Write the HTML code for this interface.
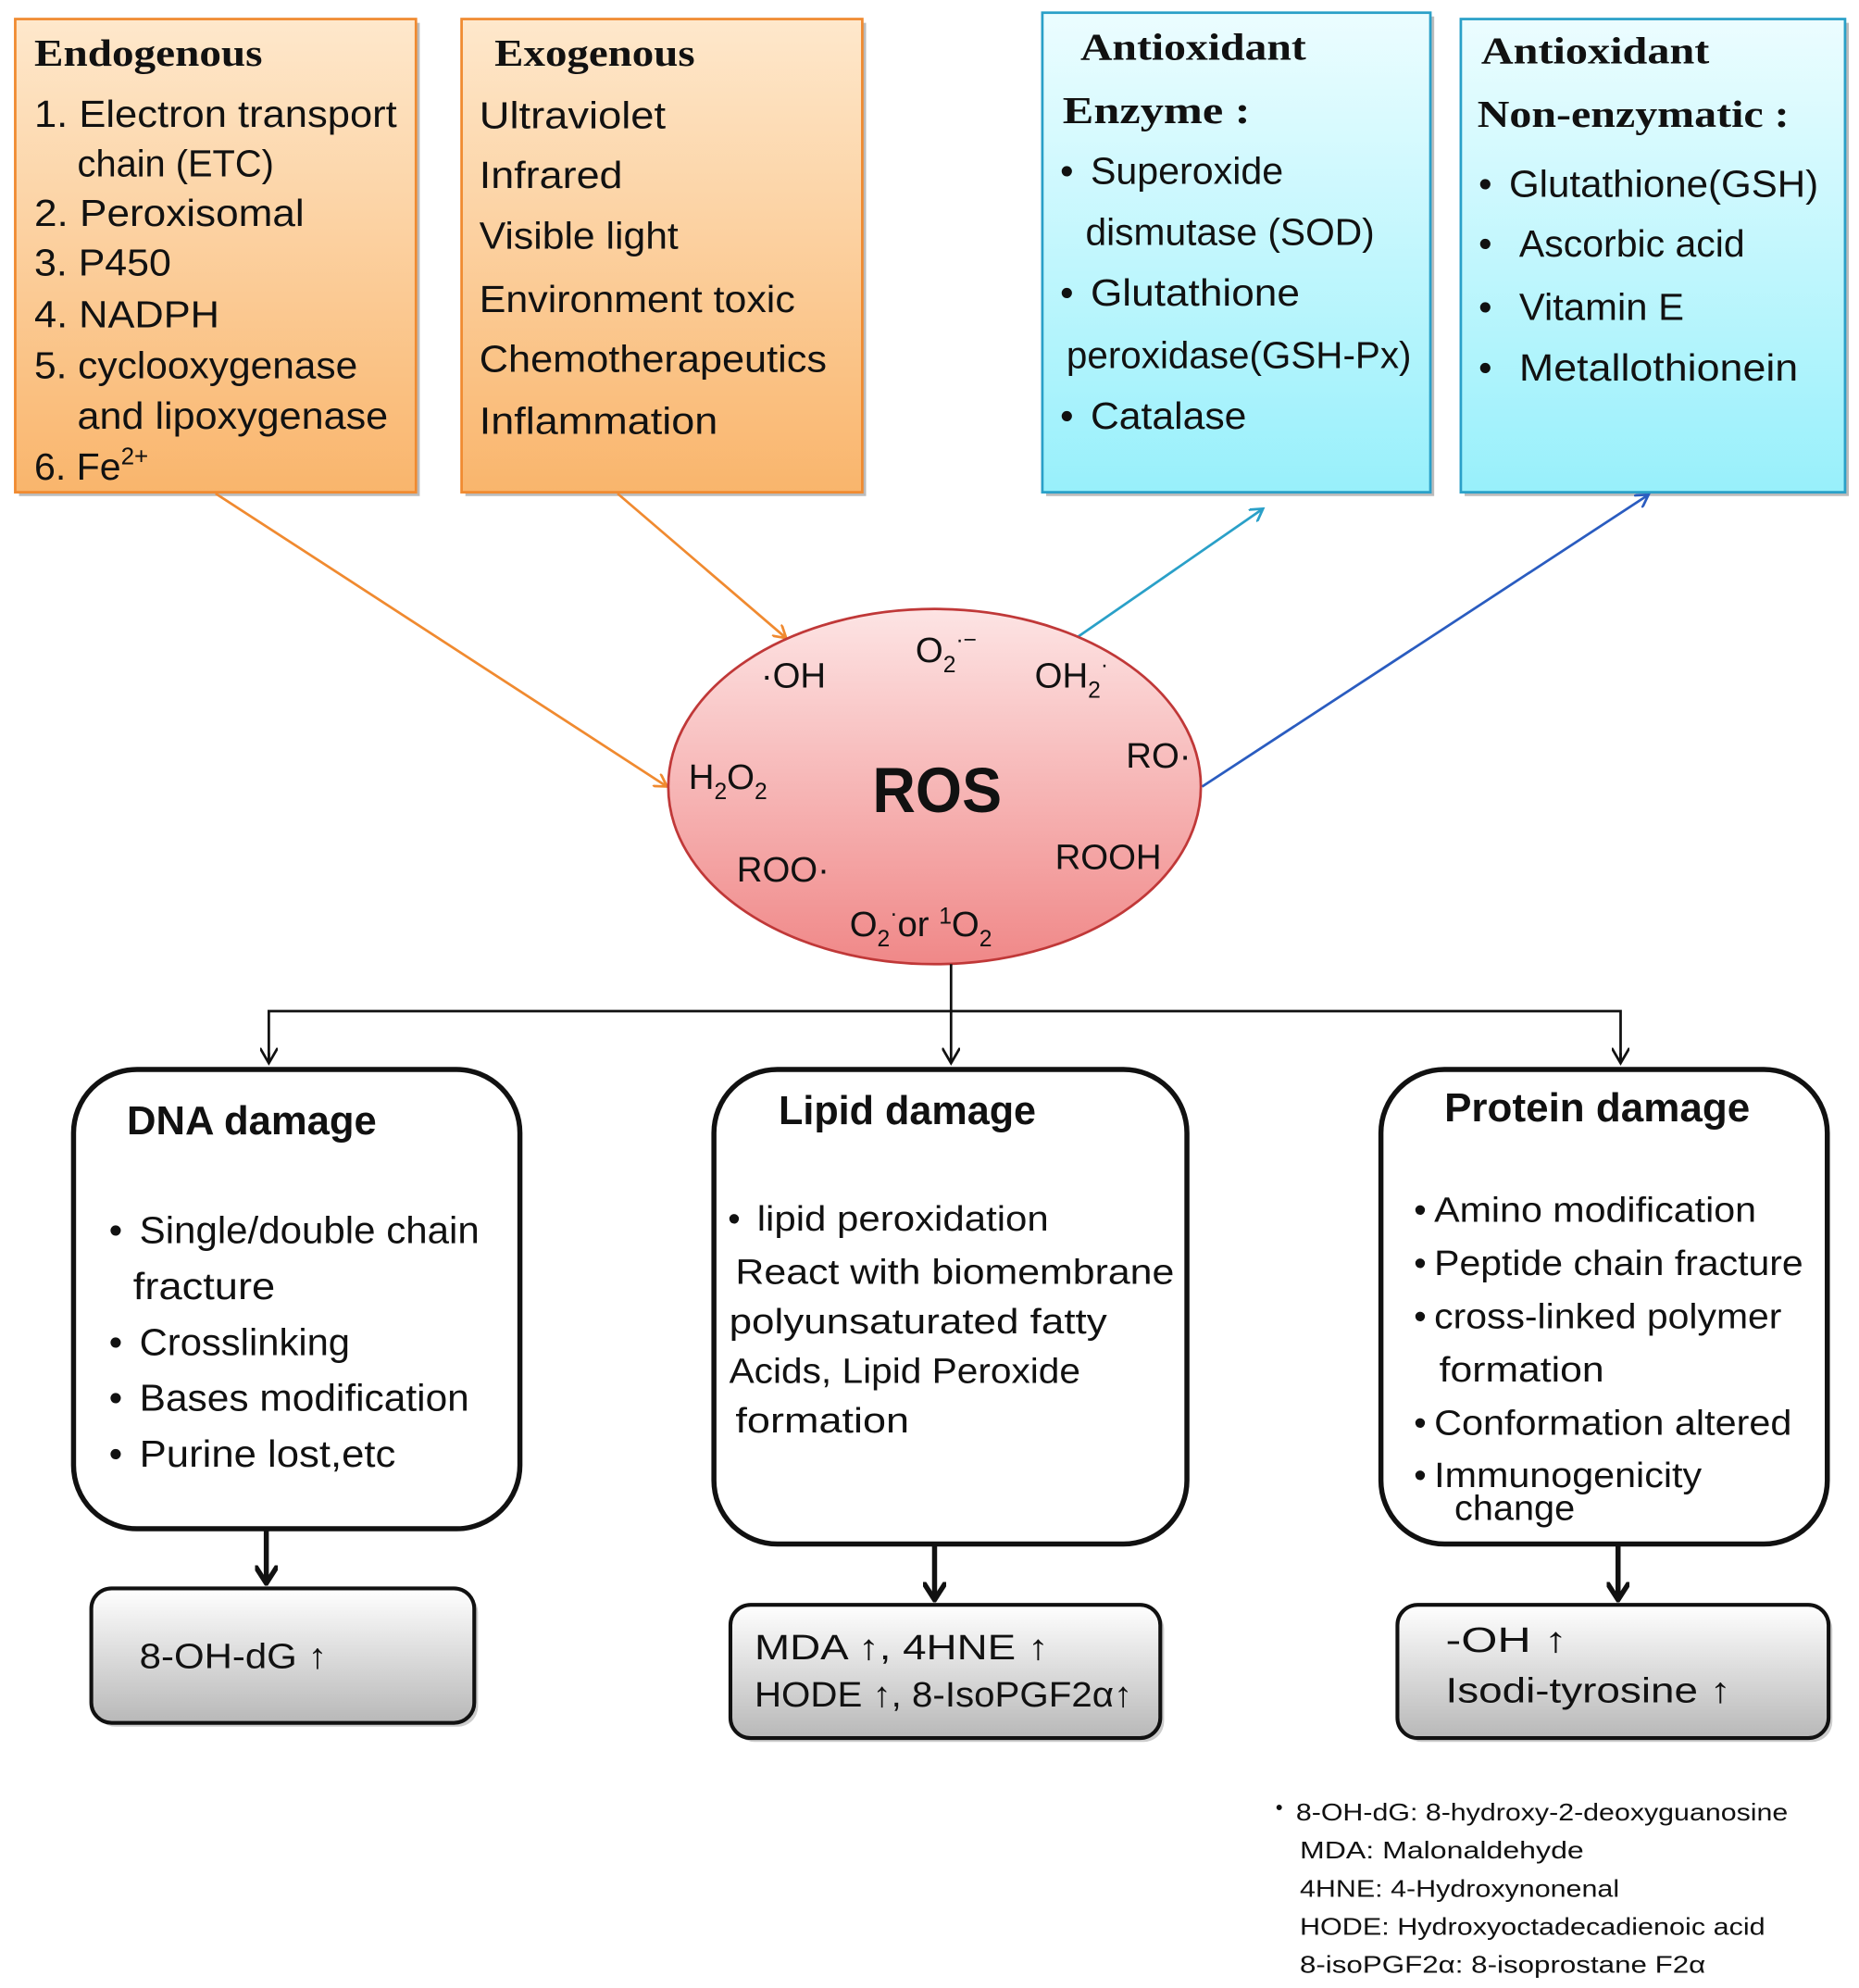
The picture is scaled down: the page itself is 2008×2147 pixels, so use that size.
<!DOCTYPE html>
<html><head><meta charset="utf-8"><style>
html,body{margin:0;padding:0;background:#fff;}
svg{display:block;}
text{font-family:"Liberation Sans Narrow","Liberation Sans",sans-serif;fill:#111;}
.t{font-family:"Liberation Serif",serif;font-weight:bold;font-size:30px;}
.b{font-weight:bold;}
</style></head><body>
<svg width="2008" height="2147" viewBox="0 0 1466 1567" preserveAspectRatio="none" xmlns="http://www.w3.org/2000/svg">
<defs>
<linearGradient id="og" x1="0" y1="0" x2="0" y2="1"><stop offset="0" stop-color="#fee8cc"/><stop offset="1" stop-color="#f9b56c"/></linearGradient>
<linearGradient id="cg" x1="0" y1="0" x2="0" y2="1"><stop offset="0" stop-color="#ecfdff"/><stop offset="1" stop-color="#98f0fb"/></linearGradient>
<linearGradient id="rg" x1="0" y1="0" x2="0" y2="1"><stop offset="0" stop-color="#fde4e4"/><stop offset="1" stop-color="#f08888"/></linearGradient>
<linearGradient id="gg" x1="0" y1="0" x2="0" y2="1"><stop offset="0" stop-color="#ffffff"/><stop offset="1" stop-color="#b8b8b8"/></linearGradient>
<marker id="ao" markerWidth="12" markerHeight="12" refX="10" refY="6" orient="auto" markerUnits="userSpaceOnUse"><path d="M0,0 L10,6 L0,12" fill="none" stroke="#f08a30" stroke-width="2"/></marker>
<marker id="ac" markerWidth="12" markerHeight="12" refX="10" refY="6" orient="auto" markerUnits="userSpaceOnUse"><path d="M0,0 L10,6 L0,12" fill="none" stroke="#2aa0c8" stroke-width="2"/></marker>
<marker id="ab" markerWidth="12" markerHeight="12" refX="10" refY="6" orient="auto" markerUnits="userSpaceOnUse"><path d="M0,0 L10,6 L0,12" fill="none" stroke="#2a5cc0" stroke-width="2"/></marker>
<marker id="ak" markerWidth="14" markerHeight="14" refX="12" refY="7" orient="auto" markerUnits="userSpaceOnUse"><path d="M0,0 L12,7 L0,14" fill="none" stroke="#111" stroke-width="2"/></marker>
<marker id="ak2" markerWidth="16" markerHeight="18" refX="14" refY="9" orient="auto" markerUnits="userSpaceOnUse"><path d="M0,0 L14,9 L0,18" fill="none" stroke="#111" stroke-width="4"/></marker>
</defs>

<!-- top boxes -->
<rect x="15" y="18" width="316" height="373" fill="#bbb"/>
<rect x="12" y="15" width="316" height="373" fill="url(#og)" stroke="#f08a30" stroke-width="2"/>
<rect x="367" y="18" width="316" height="373" fill="#bbb"/>
<rect x="364" y="15" width="316" height="373" fill="url(#og)" stroke="#f08a30" stroke-width="2"/>
<rect x="825" y="13" width="306" height="378" fill="#bbb"/>
<rect x="822" y="10" width="306" height="378" fill="url(#cg)" stroke="#2aa0c8" stroke-width="2"/>
<rect x="1155" y="18" width="303" height="373" fill="#bbb"/>
<rect x="1152" y="15" width="303" height="373" fill="url(#cg)" stroke="#2aa0c8" stroke-width="2"/>

<text class="t" x="27" y="52" textLength="180" lengthAdjust="spacingAndGlyphs">Endogenous</text>
<g font-size="30">
<text x="27" y="100" textLength="286" lengthAdjust="spacingAndGlyphs">1. Electron transport</text>
<text x="61" y="139" textLength="155" lengthAdjust="spacingAndGlyphs">chain (ETC)</text>
<text x="27" y="178" textLength="213" lengthAdjust="spacingAndGlyphs">2.  Peroxisomal</text>
<text x="27" y="217" textLength="108" lengthAdjust="spacingAndGlyphs">3. P450</text>
<text x="27" y="258" textLength="146" lengthAdjust="spacingAndGlyphs">4.  NADPH</text>
<text x="27" y="298" textLength="255" lengthAdjust="spacingAndGlyphs">5. cyclooxygenase</text>
<text x="61" y="338" textLength="245" lengthAdjust="spacingAndGlyphs">and  lipoxygenase</text>
<text x="27" y="378">6. Fe<tspan font-size="19" dy="-12">2+</tspan></text>
</g>
<text class="t" x="390" y="52" textLength="158" lengthAdjust="spacingAndGlyphs">Exogenous</text>
<g font-size="30">
<text x="378" y="101" textLength="147" lengthAdjust="spacingAndGlyphs">Ultraviolet</text>
<text x="378" y="148" textLength="113" lengthAdjust="spacingAndGlyphs">Infrared</text>
<text x="378" y="196" textLength="157" lengthAdjust="spacingAndGlyphs">Visible light</text>
<text x="378" y="246" textLength="249" lengthAdjust="spacingAndGlyphs">Environment toxic</text>
<text x="378" y="293" textLength="274" lengthAdjust="spacingAndGlyphs">Chemotherapeutics</text>
<text x="378" y="342" textLength="188" lengthAdjust="spacingAndGlyphs">Inflammation</text>
</g>
<text class="t" x="852" y="47" textLength="178" lengthAdjust="spacingAndGlyphs">Antioxidant</text>
<text class="t" x="838" y="97" textLength="148" lengthAdjust="spacingAndGlyphs">Enzyme  :</text>
<g font-size="30">
<text x="836" y="145">•</text><text x="860" y="145" textLength="152" lengthAdjust="spacingAndGlyphs">Superoxide</text>
<text x="856" y="193" textLength="228" lengthAdjust="spacingAndGlyphs">dismutase (SOD)</text>
<text x="836" y="241">•</text><text x="860" y="241" textLength="165" lengthAdjust="spacingAndGlyphs">Glutathione</text>
<text x="841" y="290" textLength="272" lengthAdjust="spacingAndGlyphs">peroxidase(GSH-Px)</text>
<text x="836" y="338">•</text><text x="860" y="338" textLength="123" lengthAdjust="spacingAndGlyphs">Catalase</text>
</g>
<text class="t" x="1168" y="50" textLength="180" lengthAdjust="spacingAndGlyphs">Antioxidant</text>
<text class="t" x="1165" y="100" textLength="246" lengthAdjust="spacingAndGlyphs">Non-enzymatic :</text>
<g font-size="30">
<text x="1166" y="155">•</text><text x="1190" y="155" textLength="244" lengthAdjust="spacingAndGlyphs">Glutathione(GSH)</text>
<text x="1166" y="202">•</text><text x="1198" y="202" textLength="178" lengthAdjust="spacingAndGlyphs">Ascorbic acid</text>
<text x="1166" y="252">•</text><text x="1198" y="252" textLength="130" lengthAdjust="spacingAndGlyphs">Vitamin E</text>
<text x="1166" y="300">•</text><text x="1198" y="300" textLength="220" lengthAdjust="spacingAndGlyphs">Metallothionein</text>
</g>

<!-- connectors top -->
<line x1="170" y1="389" x2="526" y2="620" stroke="#f08a30" stroke-width="2" marker-end="url(#ao)"/>
<line x1="487" y1="389" x2="620" y2="503" stroke="#f08a30" stroke-width="2" marker-end="url(#ao)"/>
<line x1="850" y1="502" x2="996" y2="401" stroke="#2aa0c8" stroke-width="2" marker-end="url(#ac)"/>
<line x1="948" y1="620" x2="1300" y2="390" stroke="#2a5cc0" stroke-width="2" marker-end="url(#ab)"/>

<!-- ROS -->
<ellipse cx="737" cy="620" rx="210" ry="140" fill="url(#rg)" stroke="#c03838" stroke-width="2"/>
<g font-size="28">
<text x="600" y="542">·OH</text>
<text x="722" y="522">O<tspan font-size="18" dy="8">2</tspan><tspan font-size="18" dy="-20">·−</tspan></text>
<text x="816" y="542">OH<tspan font-size="18" dy="8">2</tspan><tspan font-size="18" dy="-20">·</tspan></text>
<text x="888" y="605">RO·</text>
<text x="543" y="622">H<tspan font-size="18" dy="8">2</tspan><tspan dy="-8">O</tspan><tspan font-size="18" dy="8">2</tspan></text>
<text x="832" y="685">ROOH</text>
<text x="581" y="695">ROO·</text>
<text x="670" y="738">O<tspan font-size="18" dy="8">2</tspan><tspan font-size="18" dy="-20">·</tspan><tspan dy="12">or </tspan><tspan font-size="18" dy="-10">1</tspan><tspan dy="10">O</tspan><tspan font-size="18" dy="8">2</tspan></text>
</g>
<text x="688" y="640" font-size="50" class="b" textLength="102" lengthAdjust="spacingAndGlyphs">ROS</text>

<!-- tree connectors -->
<line x1="750" y1="760" x2="750" y2="838" stroke="#111" stroke-width="2" marker-end="url(#ak)"/>
<polyline points="212,838 212,797 1278,797 1278,838" fill="none" stroke="#111" stroke-width="2"/>
<line x1="212" y1="830" x2="212" y2="838" stroke="#111" stroke-width="2" marker-end="url(#ak)"/>
<line x1="1278" y1="830" x2="1278" y2="838" stroke="#111" stroke-width="2" marker-end="url(#ak)"/>

<!-- damage boxes -->
<rect x="58" y="843" width="352" height="362" rx="50" fill="#fff" stroke="#111" stroke-width="4"/>
<rect x="563" y="843" width="373" height="374" rx="50" fill="#fff" stroke="#111" stroke-width="4"/>
<rect x="1089" y="843" width="352" height="374" rx="50" fill="#fff" stroke="#111" stroke-width="4"/>

<text x="100" y="894" font-size="32" class="b" textLength="197" lengthAdjust="spacingAndGlyphs">DNA damage</text>
<g font-size="30">
<text x="86" y="980">•</text><text x="110" y="980" textLength="268" lengthAdjust="spacingAndGlyphs">Single/double chain</text>
<text x="105" y="1024" textLength="112" lengthAdjust="spacingAndGlyphs">fracture</text>
<text x="86" y="1068">•</text><text x="110" y="1068" textLength="166" lengthAdjust="spacingAndGlyphs">Crosslinking</text>
<text x="86" y="1112">•</text><text x="110" y="1112" textLength="260" lengthAdjust="spacingAndGlyphs">Bases modification</text>
<text x="86" y="1156">•</text><text x="110" y="1156" textLength="202" lengthAdjust="spacingAndGlyphs">Purine lost,etc</text>
</g>
<text x="614" y="886" font-size="32" class="b" textLength="203" lengthAdjust="spacingAndGlyphs">Lipid damage</text>
<g font-size="28">
<text x="574" y="970">•</text><text x="597" y="970" textLength="230" lengthAdjust="spacingAndGlyphs">lipid peroxidation</text>
<text x="580" y="1012" textLength="346" lengthAdjust="spacingAndGlyphs">React with biomembrane</text>
<text x="575" y="1051" textLength="298" lengthAdjust="spacingAndGlyphs">polyunsaturated fatty</text>
<text x="575" y="1090" textLength="277" lengthAdjust="spacingAndGlyphs">Acids, Lipid Peroxide</text>
<text x="580" y="1129" textLength="137" lengthAdjust="spacingAndGlyphs">formation</text>
</g>
<text x="1139" y="884" font-size="32" class="b" textLength="241" lengthAdjust="spacingAndGlyphs">Protein damage</text>
<g font-size="28">
<text x="1115" y="963">•</text><text x="1131" y="963" textLength="254" lengthAdjust="spacingAndGlyphs">Amino modification</text>
<text x="1115" y="1005">•</text><text x="1131" y="1005" textLength="291" lengthAdjust="spacingAndGlyphs">Peptide chain fracture</text>
<text x="1115" y="1047">•</text><text x="1131" y="1047" textLength="274" lengthAdjust="spacingAndGlyphs">cross-linked polymer</text>
<text x="1135" y="1089" textLength="130" lengthAdjust="spacingAndGlyphs">formation</text>
<text x="1115" y="1131">•</text><text x="1131" y="1131" textLength="282" lengthAdjust="spacingAndGlyphs">Conformation altered</text>
<text x="1115" y="1172">•</text><text x="1131" y="1172" textLength="211" lengthAdjust="spacingAndGlyphs">Immunogenicity</text>
<text x="1147" y="1198" textLength="95" lengthAdjust="spacingAndGlyphs">change</text>
</g>

<!-- thick arrows -->
<line x1="210" y1="1205" x2="210" y2="1248" stroke="#111" stroke-width="4" marker-end="url(#ak2)"/>
<line x1="737" y1="1217" x2="737" y2="1261" stroke="#111" stroke-width="4" marker-end="url(#ak2)"/>
<line x1="1276" y1="1217" x2="1276" y2="1261" stroke="#111" stroke-width="4" marker-end="url(#ak2)"/>

<!-- result boxes -->
<rect x="75" y="1255" width="302" height="106" rx="16" fill="#ccc"/>
<rect x="72" y="1252" width="302" height="106" rx="16" fill="url(#gg)" stroke="#111" stroke-width="3"/>
<rect x="579" y="1268" width="339" height="105" rx="16" fill="#ccc"/>
<rect x="576" y="1265" width="339" height="105" rx="16" fill="url(#gg)" stroke="#111" stroke-width="3"/>
<rect x="1105" y="1268" width="340" height="105" rx="16" fill="#ccc"/>
<rect x="1102" y="1265" width="340" height="105" rx="16" fill="url(#gg)" stroke="#111" stroke-width="3"/>
<g font-size="28">
<text x="110" y="1315" textLength="148" lengthAdjust="spacingAndGlyphs">8-OH-dG ↑</text>
<text x="595" y="1308" textLength="232" lengthAdjust="spacingAndGlyphs">MDA  ↑, 4HNE ↑</text>
<text x="595" y="1345" textLength="298" lengthAdjust="spacingAndGlyphs">HODE ↑, 8-IsoPGF2α↑</text>
<text x="1140" y="1302" textLength="96" lengthAdjust="spacingAndGlyphs">-OH  ↑</text>
<text x="1140" y="1342" textLength="225" lengthAdjust="spacingAndGlyphs">Isodi-tyrosine ↑</text>
</g>

<!-- footnote -->
<g font-size="19">
<text x="1006" y="1430" font-size="16">•</text>
<text x="1022" y="1435" textLength="388" lengthAdjust="spacingAndGlyphs">8-OH-dG: 8-hydroxy-2-deoxyguanosine</text>
<text x="1025" y="1465" textLength="224" lengthAdjust="spacingAndGlyphs">MDA:  Malonaldehyde</text>
<text x="1025" y="1495" textLength="252" lengthAdjust="spacingAndGlyphs">4HNE: 4-Hydroxynonenal</text>
<text x="1025" y="1525" textLength="367" lengthAdjust="spacingAndGlyphs">HODE: Hydroxyoctadecadienoic  acid</text>
<text x="1025" y="1555" textLength="320" lengthAdjust="spacingAndGlyphs">8-isoPGF2α:  8-isoprostane  F2α</text>
</g>
</svg>
</body></html>
